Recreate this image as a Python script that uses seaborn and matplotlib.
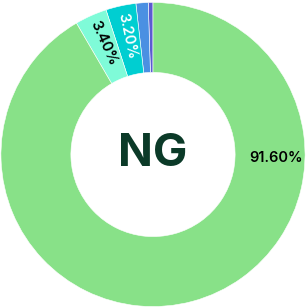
import numpy as np
import matplotlib
matplotlib.use("Agg")
import matplotlib.pyplot as plt
import seaborn as sns

# slice data, counterclockwise from 12 o'clock
labels = ["Purple", "Blue", "Cyan", "Aqua", "Green"]
shares = [0.5, 1.3, 3.2, 3.4, 91.6]
colors = ["#5B5BD0", "#4A90E2", "#00CED1", "#7FFBD8", "#88E188"]
label_colors = [None, None, "white", "black", "black"]
center_text = "NG"

sns.set_style("white")
plt.rcParams["font.family"] = ["Inter", "DejaVu Sans"]

fig = plt.figure(figsize=(3.06, 3.07), dpi=100)
ax = fig.add_axes([0, 0, 1, 1])

wedges, _ = ax.pie(shares, colors=colors, startangle=90, counterclock=True,
                   radius=1.0,
                   wedgeprops=dict(width=0.46, edgecolor="white", linewidth=0.4))

# percentage labels inside the ring
start = 90.0
for val, col in zip(shares, label_colors):
    span = val / 100 * 360
    mid = start + span / 2
    start += span
    if col is None:
        continue
    txt = f"{val:.2f}%"
    if val > 50:
        ang = np.deg2rad(-1.5)
        ax.text(0.81 * np.cos(ang), 0.81 * np.sin(ang), txt, ha="center",
                va="center", fontsize=10.5, fontweight="semibold", color=col)
    else:
        a = np.deg2rad(mid)
        ax.text(0.80 * np.cos(a), 0.80 * np.sin(a), txt, ha="center",
                va="center", fontsize=10.5, fontweight="semibold", color=col,
                rotation=mid - 180, rotation_mode="anchor")

ax.text(0, 0, center_text, ha="center", va="center", fontsize=33,
        fontweight="bold", color="#0B3A28")

ax.set_xlim(-1.006, 1.006)
ax.set_ylim(-1.003, 1.016)
ax.set_aspect("equal")
ax.axis("off")

fig.savefig("out.png", dpi=100)
